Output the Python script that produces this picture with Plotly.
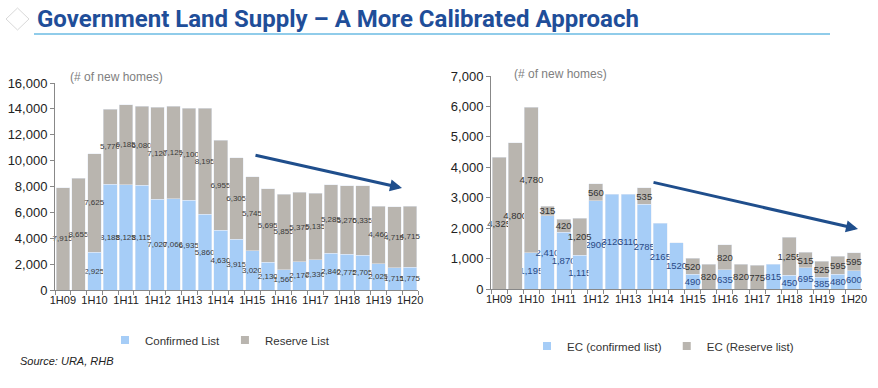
import plotly.graph_objects as go

W, H = 878, 388

periods = ["1H09", "2H09", "1H10", "2H10", "1H11", "2H11", "1H12", "2H12", "1H13", "2H13",
           "1H14", "2H14", "1H15", "2H15", "1H16", "2H16", "1H17", "2H17", "1H18", "2H18",
           "1H19", "2H19", "1H20"]
tick_text = [p if p.startswith("1H") else "" for p in periods]

# Left chart: private housing (Government Land Sales)
gls_confirmed = [None, None, 2925, 8185, 8125, 8115, 7020, 7060, 6935, 5860,
                 4630, 3915, 3020, 2130, 1560, 2170, 2330, 2840, 2775, 2705,
                 2025, 1715, 1775]
gls_reserve = [7915, 8655, 7625, 5770, 6185, 6080, 7120, 7125, 7100, 8195,
               6955, 6305, 5745, 5695, 5855, 5375, 5135, 5285, 5270, 5335,
               4460, 4715, 4715]

# Right chart: Executive Condominium
ec_confirmed = [None, None, 1195, 2410, 1870, 1115, 2900, 3120, 3110, 2785,
                2165, 1520, 490, None, 635, None, None, 815, 450, 695,
                385, 480, 600]
ec_reserve = [4325, 4800, 4780, 315, 420, 1205, 560, None, None, 535,
              None, None, 520, 820, 820, 820, 775, None, 1255, 515,
              525, 595, 595]
ec_confirmed_text = ["", "", "1,195", "2,410", "1,870", "1,115", "2900", "3120", "3110", "2785",
                     "2165", "1520", "490", "", "635", "", "", "815", "450", "695",
                     "385", "480", "600"]
ec_reserve_text = ["4,325", "4,800", "4,780", "315", "420", "1,205", "560", "", "", "535",
                   "", "", "520", "820", "820", "820", "775", "", "1,255", "515",
                   "525", "595", "595"]

BLUE = "#A6CDF7"
GRAY = "#B9B5AF"
NAVY = "#1F4E8C"
SANS = "Liberation Sans"


def fmt(v):
    return "" if v is None else f"{v:,}"


def px(x):
    return x / W


def py(y):
    return 1 - y / H


fig = go.Figure()

common = dict(textposition="inside", insidetextanchor="middle", textangle=0,
              constraintext="none", showlegend=False, hoverinfo="skip", cliponaxis=False)

fig.add_trace(go.Bar(x=periods, y=gls_confirmed, text=[fmt(v) for v in gls_confirmed],
                     marker=dict(color=BLUE), xaxis="x", yaxis="y",
                     textfont=dict(family=SANS, size=8, color="#3a3a3a"), **common))
fig.add_trace(go.Bar(x=periods, y=gls_reserve, text=[fmt(v) for v in gls_reserve],
                     marker=dict(color=GRAY), xaxis="x", yaxis="y",
                     textfont=dict(family=SANS, size=8, color="#3a3a3a"), **common))
fig.add_trace(go.Bar(x=periods, y=ec_confirmed, text=ec_confirmed_text,
                     marker=dict(color=BLUE), xaxis="x2", yaxis="y2",
                     textfont=dict(family=SANS, size=9.5, color="#2A4A86"), **common))
fig.add_trace(go.Bar(x=periods, y=ec_reserve, text=ec_reserve_text,
                     marker=dict(color=GRAY), xaxis="x2", yaxis="y2",
                     textfont=dict(family=SANS, size=9.5, color="#333333"), **common))

# legend entries
for name, col, lg, ax, ay in [("Confirmed List", BLUE, "legend", "x", "y"),
                              ("Reserve List", GRAY, "legend", "x", "y"),
                              ("EC (confirmed list)", BLUE, "legend2", "x2", "y2"),
                              ("EC (Reserve list)", GRAY, "legend2", "x2", "y2")]:
    fig.add_trace(go.Scatter(x=[None], y=[None], mode="markers", name=name,
                             marker=dict(symbol="square", size=8, color=col),
                             legend=lg, xaxis=ax, yaxis=ay, hoverinfo="skip"))

xaxis_common = dict(type="category", tickmode="array", tickvals=periods, ticktext=tick_text,
                    tickson="boundaries", ticks="outside", ticklen=4, tickcolor="#888888",
                    showline=True, linecolor="#888888", linewidth=1, showgrid=False,
                    zeroline=False, tickangle=0, automargin=False,
                    tickfont=dict(family=SANS, size=11, color="#222222"))
yaxis_common = dict(showline=True, linecolor="#888888", linewidth=1, showgrid=False,
                    zeroline=False, ticks="outside", ticklen=4, tickcolor="#888888",
                    tickformat=",", automargin=False,
                    tickfont=dict(family=SANS, size=13, color="#222222"))

fig.update_layout(
    width=W, height=H, autosize=False,
    margin=dict(l=0, r=0, t=0, b=0, autoexpand=False),
    paper_bgcolor="white", plot_bgcolor="white",
    barmode="stack", bargap=0.14,
    xaxis=dict(domain=[px(55), px(418)], anchor="y", **xaxis_common),
    yaxis=dict(domain=[py(290), py(83)], range=[0, 16000], dtick=2000, anchor="x", **yaxis_common),
    xaxis2=dict(domain=[px(491), px(862)], anchor="y2", **xaxis_common),
    yaxis2=dict(domain=[py(289), py(76)], range=[0, 7000], dtick=1000, anchor="x2", **yaxis_common),
    legend=dict(orientation="h", x=px(220), xanchor="center", y=py(340), yanchor="middle",
                font=dict(family=SANS, size=11.5, color="#333333"), traceorder="normal",
                bgcolor="rgba(0,0,0,0)", itemwidth=30),
    legend2=dict(orientation="h", x=px(663), xanchor="center", y=py(346), yanchor="middle",
                 font=dict(family=SANS, size=11.5, color="#333333"), traceorder="normal",
                 bgcolor="rgba(0,0,0,0)", itemwidth=30),
    shapes=[
        dict(type="line", xref="paper", yref="paper", x0=px(34), x1=px(830), y0=py(34), y1=py(34),
             line=dict(color="#6BBBE3", width=1.5)),
        dict(type="path", xref="paper", yref="paper",
             path=f"M {px(6)},{py(19)} L {px(17.5)},{py(8)} L {px(29)},{py(19)} L {px(17.5)},{py(30)} Z",
             line=dict(color="#D9D9D9", width=1)),
    ],
    annotations=[
        dict(text="<b>Government Land Supply – A More Calibrated Approach</b>", xref="paper", yref="paper",
             x=px(35), y=py(19), xanchor="left", yanchor="middle", showarrow=False,
             font=dict(family="Roboto", size=24, color="#1F4E99")),
        dict(text="(# of new homes)", xref="paper", yref="paper", x=px(68), y=py(77),
             xanchor="left", yanchor="middle", showarrow=False,
             font=dict(family=SANS, size=12, color="#808080")),
        dict(text="(# of new homes)", xref="paper", yref="paper", x=px(512), y=py(74),
             xanchor="left", yanchor="middle", showarrow=False,
             font=dict(family=SANS, size=12, color="#808080")),
        dict(text="Source: URA, RHB", xref="paper", yref="paper", x=px(18), y=py(361),
             xanchor="left", yanchor="middle", showarrow=False,
             font=dict(family=SANS, size=11, color="#222222", style="italic")),
        dict(text="", xref="paper", yref="paper", x=px(402), y=py(188), ax=254 - 402, ay=155 - 188,
             showarrow=True, arrowhead=2, arrowsize=0.8, arrowwidth=3, arrowcolor=NAVY),
        dict(text="", xref="paper", yref="paper", x=px(858), y=py(229), ax=652 - 858, ay=182 - 229,
             showarrow=True, arrowhead=2, arrowsize=0.8, arrowwidth=3, arrowcolor=NAVY),
    ],
)

fig.write_html("out.html", config={"displayModeBar": False},
               post_script="document.body.style.margin='0px';")
